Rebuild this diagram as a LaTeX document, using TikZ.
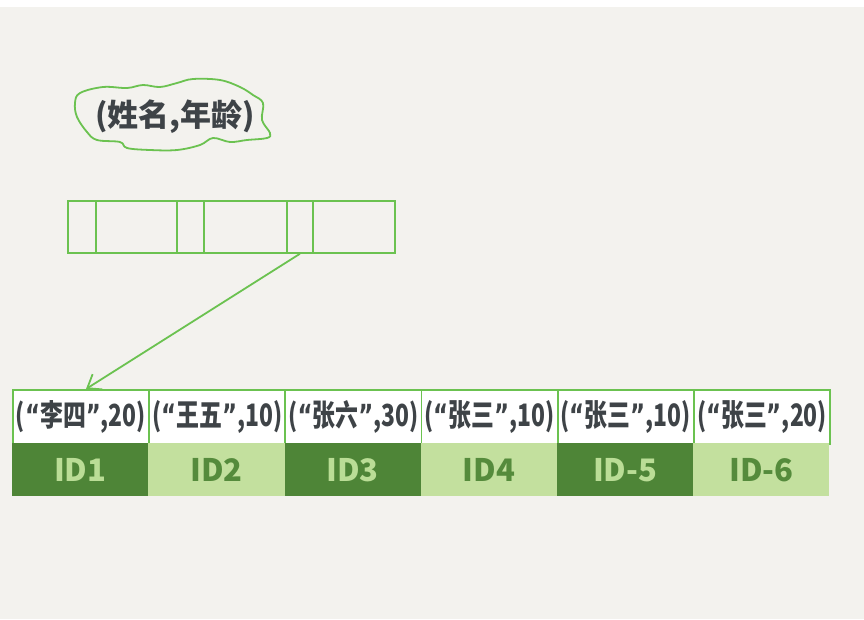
\documentclass[tikz,border=0pt]{standalone}
\usepackage{fontspec}
\setmainfont{Noto Sans CJK SC}
\newfontfamily\qf{DejaVu Sans}
\usetikzlibrary{arrows.meta}
\definecolor{bg}{HTML}{F3F2EE}
\definecolor{lgreen}{HTML}{6BC250}
\definecolor{tgray}{HTML}{3E4347}
\definecolor{dgreen}{HTML}{4E8537}
\definecolor{pgreen}{HTML}{C3E09E}
\definecolor{dtext}{HTML}{BADD96}
\definecolor{ltext}{HTML}{558B3C}
\newcommand\val[2]{\resizebox{130pt}{26pt}{({\qf“}#1{\qf”},#2)}}
\begin{document}
\begin{tikzpicture}[x=1pt,y=-1pt,
  ln/.style={draw=lgreen,line width=1.8pt},
  seg/.style={ln,anchor=north west,minimum height=52pt,inner sep=0pt},
  valcell/.style={ln,fill=white,anchor=north west,minimum width=136.2pt,minimum height=54pt,inner sep=0pt,
     font=\bfseries\fontsize{30pt}{32pt}\selectfont,text=tgray},
  idd/.style={fill=dgreen,anchor=north west,minimum width=136.2pt,minimum height=53pt,inner sep=0pt,
     font=\bfseries\fontsize{31pt}{33pt}\selectfont,text=dtext},
  idl/.style={idd,fill=pgreen,text=ltext}]
\useasboundingbox (0,0) rectangle (864,619);
\fill[bg] (0,0) rectangle (864,619);
\fill[white] (0,0) rectangle (864,7);
% cloud
\node[font=\bfseries\fontsize{31pt}{33pt}\selectfont,text=tgray] (key) at (175,117) {(姓名,年龄)};
\draw[ln] plot[smooth cycle,tension=0.6] coordinates {(75,103) (80,93) (103,87) (127,88) (143,85) (160,87) (177,83) (193,79) (220,80) (240,87) (253,95) (263,103) (262,120) (270,133) (267,138) (247,140) (230,142) (213,138) (200,145) (177,150) (150,150) (127,148) (120,142) (97,140) (87,132) (77,117)};
% top index entry
\node[seg,minimum width=28pt] (r1) at (67,200) {};
\node[seg,minimum width=81pt] (r2) at (95,200) {};
\node[seg,minimum width=27pt] (r3) at (176,200) {};
\node[seg,minimum width=83pt] (r4) at (203,200) {};
\node[seg,minimum width=26pt] (r5) at (286,200) {};
\node[seg,minimum width=82pt] (r6) at (312,200) {};
% value cells
\node[valcell] (v1) at (12,389) {\val{李四}{20}};
\node[valcell] (v2) at (148.2,389) {\val{王五}{10}};
\node[valcell] (v3) at (284.4,389) {\val{张六}{30}};
\node[valcell] (v4) at (420.6,389) {\val{张三}{10}};
\node[valcell] (v5) at (556.8,389) {\val{张三}{10}};
\node[valcell] (v6) at (693,389) {\val{张三}{20}};
% id cells
\node[idd] (i1) at (12,443) {ID1};
\node[idl] (i2) at (148.2,443) {ID2};
\node[idd] (i3) at (284.4,443) {ID3};
\node[idl] (i4) at (420.6,443) {ID4};
\node[idd] (i5) at (556.8,443) {ID-5};
\node[idl] (i6) at (693,443) {ID-6};
% arrow
\draw[ln,-{Straight Barb[length=12pt,width=18pt,line width=1.8pt]}] (r5.south) -- ([xshift=5pt]v1.north);
\end{tikzpicture}
\end{document}
